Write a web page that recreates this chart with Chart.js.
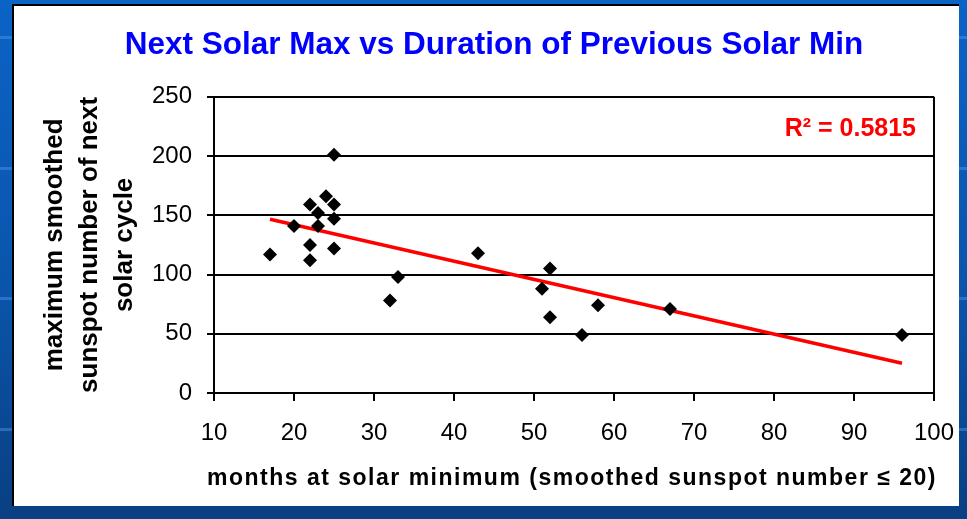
<!DOCTYPE html>
<html>
<head>
<meta charset="utf-8">
<script src="https://cdn.jsdelivr.net/npm/chart.js@4.4.0/dist/chart.umd.min.js"></script>
<style>
  html, body { margin: 0; padding: 0; width: 967px; height: 519px; overflow: hidden; }
  body { background: linear-gradient(to bottom, #0b63c6 0%, #0a55ab 55%, #0a3f82 100%); position: relative; }
  .stripe { position: absolute; left: 0; width: 967px; height: 3px; background: rgba(80,150,230,0.45); }
  #panel { position: absolute; left: 12px; top: 4px; width: 945px; height: 500px; background: #fff;
           border-left: 2px solid #000; border-top: 2px solid #000; }
  #wrap { position: absolute; left: 14px; top: 6px; width: 960px; height: 500px; }
</style>
</head>
<body>
<div class="stripe" style="top:36px"></div>
<div class="stripe" style="top:167px"></div>
<div class="stripe" style="top:297px"></div>
<div class="stripe" style="top:428px"></div>
<div id="panel"></div>
<div id="wrap"><canvas id="graphe-soleil"></canvas></div>
<script>
// valeurs
const months = [17, 20, 22, 22, 22, 23, 23, 24, 25, 25, 25, 25, 32, 33, 43, 51, 52, 52, 56, 58, 67, 96]
const maxSunspots = [117, 141, 159, 125, 112, 152, 141, 166, 201, 159, 147, 122, 78, 98, 118, 88, 105, 64, 49, 74, 71, 49]
// droite de tendance (extremites lues)
const trendX = [17, 96]
const trendY = [146.7, 25.1]
const r2Label = 'R² = 0.5815'
const xTitle = 'months at solar minimum (smoothed sunspot number ≤ 20)'
const yTitle = ['maximum smoothed', 'sunspot number of next', 'solar cycle']

const police = "'Liberation Sans', Arial, sans-serif"

let points = []
for (let i = 0; i < months.length; i++) {
    points.push({x: months[i], y: maxSunspots[i]})
}
let tendance = []
for (let i = 0; i < trendX.length; i++) {
    tendance.push({x: trendX[i], y: trendY[i]})
}

// cadre a droite, R2 et titre de l'axe x
const extras = {
    id: 'extras',
    afterDatasetsDraw(chart) {
        const ctx = chart.ctx
        const a = chart.chartArea
        ctx.save()
        ctx.strokeStyle = '#000'
        ctx.lineWidth = 2
        ctx.beginPath()
        ctx.moveTo(a.right, a.top)
        ctx.lineTo(a.right, a.bottom)
        ctx.stroke()

        ctx.fillStyle = '#ff0000'
        ctx.font = 'bold 25px ' + police
        ctx.textAlign = 'right'
        ctx.textBaseline = 'alphabetic'
        ctx.fillText(r2Label, a.right - 18, a.top + 39)

        ctx.fillStyle = '#000'
        ctx.font = 'bold 23px ' + police
        ctx.textAlign = 'center'
        if ('letterSpacing' in ctx) ctx.letterSpacing = '1.5px'
        ctx.fillText(xTitle, (a.left + a.right) / 2 - 2, a.bottom + 92)
        ctx.restore()
    }
}

const ctx = document.getElementById('graphe-soleil')
new Chart(ctx, {
    type: 'scatter',
    data: {
        datasets: [
            {
                label: 'max',
                data: points,
                pointStyle: 'rectRot',
                pointRadius: 7,
                pointHoverRadius: 7,
                backgroundColor: '#000',
                borderColor: '#000',
                borderWidth: 0
            },
            {
                type: 'line',
                label: 'tendance',
                data: tendance,
                borderColor: '#ff0000',
                borderWidth: 3.5,
                pointRadius: 0,
                fill: false
            }
        ]
    },
    options: {
        responsive: true,
        maintainAspectRatio: false,
        animation: false,
        layout: { padding: { left: 40, right: 40, top: 0, bottom: 0 } },
        plugins: {
            legend: { display: false },
            tooltip: { enabled: false },
            title: {
                display: true,
                text: 'Next Solar Max vs Duration of Previous Solar Min',
                color: '#0000ff',
                font: { family: police, size: 31.5, weight: 'bold', lineHeight: 1.2 },
                padding: { top: 20, bottom: 33 }
            }
        },
        scales: {
            x: {
                type: 'linear',
                min: 10,
                max: 100,
                ticks: { stepSize: 10, color: '#000', padding: 18, font: { family: police, size: 24 } },
                grid: { drawOnChartArea: false, drawTicks: true, tickLength: 8, color: '#000', lineWidth: 2 },
                border: { display: true, color: '#000', width: 2 },
                afterFit: (s) => { s.height = 113 }
            },
            y: {
                min: 0,
                max: 250,
                ticks: { stepSize: 50, color: '#000', padding: 15, font: { family: police, size: 24 } },
                grid: { color: '#000', lineWidth: 2, tickLength: 7 },
                border: { display: true, color: '#000', width: 2 },
                title: {
                    display: true,
                    text: yTitle,
                    color: '#000',
                    font: { family: police, size: 26, weight: 'bold', lineHeight: 1.35 },
                    padding: { top: -17, bottom: 0 }
                },
                afterFit: (s) => { s.width = 160 }
            }
        }
    },
    plugins: [extras]
})
</script>
</body>
</html>
